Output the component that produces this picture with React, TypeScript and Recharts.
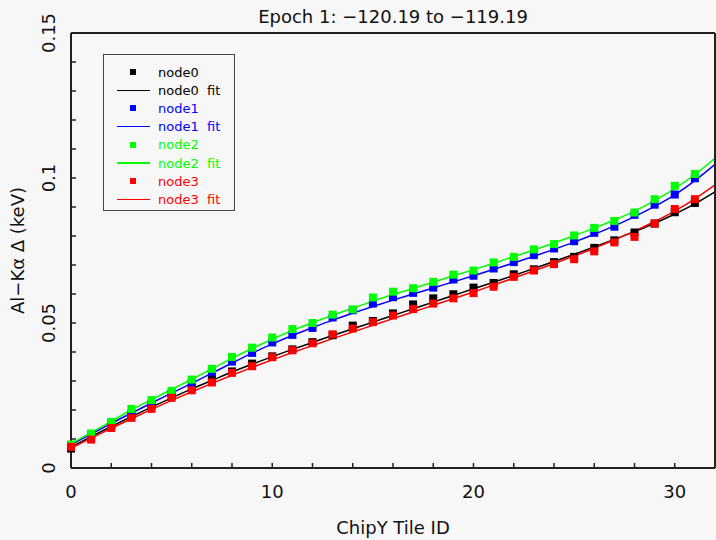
import React from 'react'
import { ComposedChart, Line, XAxis, YAxis, Legend, Label } from 'recharts'

// tile ids for the measured points (0..31) and the fit curves (0..32)
const tileIds = [0, 1, 2, 3, 4, 5, 6, 7, 8, 9, 10, 11, 12, 13, 14, 15, 16, 17, 18, 19, 20, 21, 22, 23, 24, 25, 26, 27, 28, 29, 30, 31]
const fitIds = [...tileIds, 32]

const node0 = [0.0067, 0.0105, 0.0146, 0.0181, 0.0214, 0.025, 0.0277, 0.0305, 0.0333, 0.036, 0.0385, 0.0409, 0.0434, 0.0458, 0.0491, 0.0507, 0.0533, 0.0564, 0.0585, 0.0599, 0.0622, 0.0638, 0.0668, 0.0685, 0.071, 0.0728, 0.0759, 0.0785, 0.0812, 0.0843, 0.0882, 0.0914]
const node0Fit = [0.0072, 0.0108, 0.0143, 0.0177, 0.021, 0.0242, 0.0273, 0.0302, 0.0331, 0.0358, 0.0384, 0.0409, 0.0433, 0.0457, 0.048, 0.0503, 0.0526, 0.0549, 0.0572, 0.0595, 0.0618, 0.0641, 0.0664, 0.0688, 0.0712, 0.0737, 0.0762, 0.0788, 0.0815, 0.0844, 0.0876, 0.0911, 0.0952]

const node1 = [0.0078, 0.0115, 0.0153, 0.0188, 0.0221, 0.0259, 0.0293, 0.033, 0.0367, 0.0397, 0.0433, 0.0459, 0.0483, 0.0519, 0.0544, 0.0567, 0.0589, 0.0604, 0.0622, 0.065, 0.0663, 0.0688, 0.071, 0.0734, 0.0757, 0.0782, 0.0811, 0.0832, 0.0873, 0.0908, 0.0943, 0.0999]
const node1Fit = [0.008, 0.0117, 0.0154, 0.0189, 0.0224, 0.0258, 0.0292, 0.0327, 0.0362, 0.0396, 0.0428, 0.0457, 0.0484, 0.051, 0.0534, 0.0557, 0.0579, 0.06, 0.0621, 0.0642, 0.0663, 0.0685, 0.0707, 0.073, 0.0754, 0.0779, 0.0806, 0.0835, 0.0867, 0.0902, 0.0942, 0.0991, 0.1047]

const node2 = [0.0081, 0.0119, 0.0159, 0.0204, 0.0234, 0.0266, 0.0305, 0.0342, 0.0383, 0.0415, 0.045, 0.0479, 0.05, 0.0529, 0.0547, 0.0588, 0.0608, 0.062, 0.0642, 0.0667, 0.0681, 0.0709, 0.0728, 0.0754, 0.0772, 0.0802, 0.0828, 0.0852, 0.0881, 0.0927, 0.0973, 0.1014]
const node2Fit = [0.0084, 0.0122, 0.0161, 0.02, 0.0236, 0.0271, 0.0306, 0.0342, 0.0378, 0.0412, 0.0444, 0.0474, 0.0501, 0.0527, 0.0551, 0.0575, 0.0598, 0.0619, 0.0641, 0.0663, 0.0684, 0.0706, 0.0729, 0.0752, 0.0776, 0.0801, 0.0827, 0.0855, 0.0886, 0.0922, 0.0963, 0.1012, 0.1068]

const node3 = [0.0073, 0.0098, 0.0138, 0.0173, 0.0204, 0.0242, 0.0268, 0.0295, 0.0328, 0.0351, 0.0382, 0.0406, 0.043, 0.0461, 0.0481, 0.0503, 0.0526, 0.0548, 0.0567, 0.0585, 0.0603, 0.0625, 0.0659, 0.0681, 0.0703, 0.072, 0.0747, 0.0778, 0.0797, 0.0843, 0.0893, 0.0927]
const node3Fit = [0.0068, 0.0103, 0.0137, 0.017, 0.0202, 0.0233, 0.0263, 0.0292, 0.032, 0.0347, 0.0373, 0.0398, 0.0422, 0.0446, 0.0469, 0.0492, 0.0515, 0.0538, 0.0561, 0.0584, 0.0607, 0.0631, 0.0655, 0.068, 0.0705, 0.0731, 0.0758, 0.0787, 0.0817, 0.085, 0.0886, 0.0928, 0.0976]

const xTicks = [0, 2, 4, 6, 8, 10, 12, 14, 16, 18, 20, 22, 24, 26, 28, 30, 32]
const xMajor = [0, 10, 20, 30]
const yTicks = [0, 0.01, 0.02, 0.03, 0.04, 0.05, 0.06, 0.07, 0.08, 0.09, 0.1, 0.11, 0.12, 0.13, 0.14, 0.15]
const yMajor = [0, 0.05, 0.1, 0.15]

const series = [
  { key: 'n0', name: 'node0', color: '#000000', pts: node0, fit: node0Fit },
  { key: 'n1', name: 'node1', color: '#0000ff', pts: node1, fit: node1Fit },
  { key: 'n2', name: 'node2', color: '#00ff00', pts: node2, fit: node2Fit },
  { key: 'n3', name: 'node3', color: '#ff0000', pts: node3, fit: node3Fit },
]

const rows = fitIds.map((x, i) => {
  const r: Record<string, number | undefined> = { x }
  series.forEach((s) => {
    r[s.key] = s.pts[i]
    r[s.key + 'f'] = s.fit[i]
  })
  return r
})

const FONT = '"DejaVu Sans", sans-serif'
const AXIS = '#222'
const BG = '#f7f7f7'
const tickStroke = { stroke: AXIS, strokeWidth: 1.5 }

function BottomLabel({ x, y, payload }: any) {
  const v = payload.value
  if (v % 10 !== 0) return <g />
  return (
    <text x={x} y={y + 30} textAnchor="middle" fontSize={18} fill="#111" fontFamily={FONT}>{v}</text>
  )
}

function LeftLabel({ x, y, payload }: any) {
  const v = payload.value
  if (Math.round(v * 100) % 5 !== 0) return <g />
  return (
    <text x={x - 16} y={y} transform={`rotate(-90 ${x - 16} ${y})`} textAnchor="middle" fontSize={18} fill="#111" fontFamily={FONT}>
      {String(Number(v.toFixed(2)))}
    </text>
  )
}

function squareDot(color: string) {
  return (p: any) => {
    if (p.cy == null || p.value == null) return <g key={p.index} />
    return <rect key={p.index} x={p.cx - 4} y={p.cy - 4} width={8} height={8} fill={color} />
  }
}

function LegendBox() {
  return (
    <div style={{ border: '1px solid #444', width: 132, height: 157, boxSizing: 'border-box', padding: '8px 0 0 0', fontFamily: FONT, fontSize: 13 }}>
      {series.map((s) => (
        <React.Fragment key={s.key}>
          <div style={{ display: 'flex', alignItems: 'center', height: 18.2, color: s.color }}>
            <div style={{ width: 54, display: 'flex', justifyContent: 'center' }}>
              <div style={{ width: 6, height: 6, background: s.color, marginLeft: 4 }} />
            </div>
            <span>{s.name}</span>
          </div>
          <div style={{ display: 'flex', alignItems: 'center', height: 18.2, color: s.color }}>
            <div style={{ width: 54, display: 'flex', justifyContent: 'center' }}>
              <div style={{ width: 33, height: 1.5, background: s.color, marginLeft: 4 }} />
            </div>
            <span style={{ whiteSpace: 'pre' }}>{s.name + '  fit'}</span>
          </div>
        </React.Fragment>
      ))}
    </div>
  )
}

export default function App() {
  return (
    <div style={{ position: 'absolute', left: 0, top: 0, width: 716, height: 540, background: BG }}>
      <ComposedChart width={716} height={540} data={rows} margin={{ top: 0, right: 0, bottom: 0, left: 0 }}>
        {/* zero-size axes that only carry the long major ticks */}
        <XAxis xAxisId="bM" orientation="bottom" type="number" dataKey="x" domain={[0, 32]} ticks={xMajor} interval={0}
          height={0} tickSize={-10} tick={false} tickLine={tickStroke} axisLine={false} />
        <XAxis xAxisId="tM" orientation="top" type="number" dataKey="x" domain={[0, 32]} ticks={xMajor} interval={0}
          height={0} tickSize={-10} tick={false} tickLine={tickStroke} axisLine={false} />
        <YAxis yAxisId="lM" orientation="left" type="number" domain={[0, 0.15]} ticks={yMajor} interval={0}
          width={0} tickSize={-10} tick={false} tickLine={tickStroke} axisLine={false} />
        <YAxis yAxisId="rM" orientation="right" type="number" domain={[0, 0.15]} ticks={yMajor} interval={0}
          width={0} tickSize={-10} tick={false} tickLine={tickStroke} axisLine={false} />

        <XAxis
          xAxisId="b"
          orientation="bottom"
          type="number"
          dataKey="x"
          domain={[0, 32]}
          ticks={xTicks}
          interval={0}
          height={72}
          tickSize={-5}
          tickMargin={5}
          tickLine={tickStroke}
          axisLine={{ stroke: AXIS, strokeWidth: 2 }}
          tick={<BottomLabel />}
        >
          <Label
            content={({ viewBox }: any) => (
              <text x={viewBox.x + viewBox.width / 2} y={534} textAnchor="middle" fontSize={18} fill="#111" fontFamily={FONT}>
                ChipY Tile ID
              </text>
            )}
          />
        </XAxis>
        <XAxis
          xAxisId="t"
          orientation="top"
          type="number"
          dataKey="x"
          domain={[0, 32]}
          ticks={xTicks}
          interval={0}
          height={33}
          tickSize={-5}
          tick={false}
          tickLine={tickStroke}
          axisLine={{ stroke: AXIS, strokeWidth: 2 }}
        >
          <Label
            content={({ viewBox }: any) => (
              <text x={viewBox.x + viewBox.width / 2} y={23} textAnchor="middle" fontSize={18} fill="#111" fontFamily={FONT}>
                Epoch 1: −120.19 to −119.19
              </text>
            )}
          />
        </XAxis>
        <YAxis
          yAxisId="l"
          orientation="left"
          type="number"
          domain={[0, 0.15]}
          ticks={yTicks}
          interval={0}
          width={71}
          tickSize={-5}
          tickMargin={5}
          tickLine={tickStroke}
          axisLine={{ stroke: AXIS, strokeWidth: 2 }}
          tick={<LeftLabel />}
        >
          <Label
            content={({ viewBox }: any) => {
              const cy = viewBox.y + viewBox.height / 2
              return (
                <text x={24} y={cy} transform={`rotate(-90 24 ${cy})`} textAnchor="middle" fontSize={18} fill="#111" fontFamily={FONT}>
                  Al−Kα Δ (keV)
                </text>
              )
            }}
          />
        </YAxis>
        <YAxis
          yAxisId="r"
          orientation="right"
          type="number"
          domain={[0, 0.15]}
          ticks={yTicks}
          interval={0}
          width={1}
          tickSize={-5}
          tick={false}
          tickLine={tickStroke}
          axisLine={{ stroke: AXIS, strokeWidth: 2 }}
        />
        <Legend
          layout="horizontal"
          verticalAlign="middle"
          align="center"
          wrapperStyle={{ left: 103, top: 54, width: 134, height: 159 }}
          content={() => <LegendBox />}
        />
        {series.map((s) => [
          <Line
            key={s.key}
            xAxisId="b"
            yAxisId="l"
            dataKey={s.key}
            stroke="none"
            dot={squareDot(s.color)}
            activeDot={false}
            legendType="none"
            isAnimationActive={false}
          />,
          <Line
            key={s.key + 'f'}
            xAxisId="b"
            yAxisId="l"
            type="monotone"
            dataKey={s.key + 'f'}
            stroke={s.color}
            strokeWidth={1.5}
            dot={false}
            activeDot={false}
            isAnimationActive={false}
          />,
        ])}
      </ComposedChart>
    </div>
  )
}
